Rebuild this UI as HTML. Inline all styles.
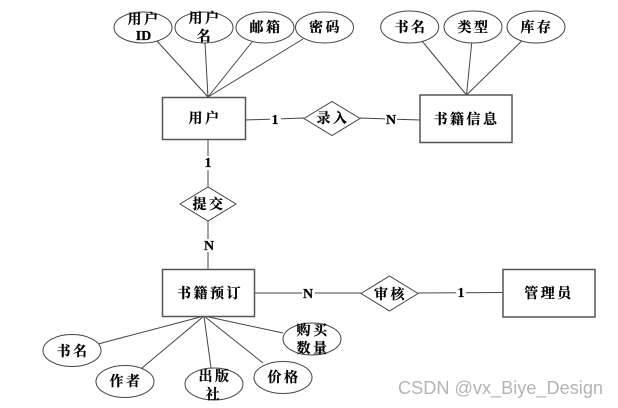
<!DOCTYPE html>
<html><head><meta charset="utf-8"><style>
html,body{margin:0;padding:0;background:#fff;width:618px;height:408px;overflow:hidden}
svg{display:block}
.c{font-family:"Noto Serif CJK SC","Liberation Serif",serif;font-size:14px;font-weight:700;fill:#000;text-anchor:middle;letter-spacing:2.5px;stroke:#000;stroke-width:.2}
.l{font-family:"Liberation Serif",serif;font-size:14px;font-weight:700;fill:#000;text-anchor:middle;stroke:#000;stroke-width:.2}
.w{font-family:"Liberation Sans",sans-serif;font-size:18px;fill:#b4b4b4}
line{stroke:#444;stroke-width:1}
.s{fill:#fff;stroke:#444;stroke-width:1}
.r{fill:#fff;stroke:#555;stroke-width:1.5}
.bg{fill:#fff;stroke:none}
</style></head><body>
<svg width="618" height="408" viewBox="0 0 618 408" xmlns="http://www.w3.org/2000/svg">
<line x1="157" y1="41" x2="208" y2="97"/>
<line x1="205" y1="43" x2="208" y2="97"/>
<line x1="252" y1="42" x2="208" y2="97"/>
<line x1="303" y1="39" x2="208" y2="97"/>
<line x1="422" y1="41" x2="466.5" y2="95"/>
<line x1="471.7" y1="43" x2="466.5" y2="95"/>
<line x1="521.7" y1="41" x2="466.5" y2="95"/>
<line x1="245" y1="120" x2="304" y2="118"/>
<line x1="360" y1="118" x2="420" y2="120"/>
<line x1="208" y1="139" x2="208" y2="187"/>
<line x1="208" y1="221" x2="208" y2="269"/>
<line x1="254" y1="293" x2="361" y2="293"/>
<line x1="418" y1="293" x2="503" y2="292.5"/>
<line x1="98" y1="344" x2="204" y2="316"/>
<line x1="142" y1="368" x2="204" y2="316"/>
<line x1="211" y1="368" x2="204" y2="316"/>
<line x1="263" y1="363" x2="204" y2="316"/>
<line x1="283" y1="333" x2="204" y2="316"/>

<rect class="r" x="162.5" y="97.5" width="83" height="42"/>
<rect class="r" x="420" y="95" width="92" height="47.5"/>
<rect class="r" x="162.5" y="269.5" width="92" height="47"/>
<rect class="r" x="503" y="269.5" width="92" height="47.5"/>

<ellipse class="s" cx="143" cy="27.5" rx="29" ry="15.5"/>
<ellipse class="s" cx="204" cy="27.5" rx="29" ry="15.5"/>
<ellipse class="s" cx="265" cy="27.5" rx="29" ry="15.5"/>
<ellipse class="s" cx="324.5" cy="27.5" rx="29" ry="15.5"/>
<ellipse class="s" cx="409.7" cy="27" rx="29" ry="16"/>
<ellipse class="s" cx="473" cy="27" rx="29" ry="16"/>
<ellipse class="s" cx="536" cy="27" rx="29" ry="16"/>
<ellipse class="s" cx="72" cy="350.5" rx="29" ry="16"/>
<ellipse class="s" cx="125" cy="381.5" rx="29" ry="16"/>
<ellipse class="s" cx="214" cy="384" rx="29" ry="16"/>
<ellipse class="s" cx="283" cy="377.5" rx="29" ry="16"/>
<ellipse class="s" cx="312" cy="339" rx="29" ry="16"/>

<polygon class="s" points="304,118.5 332,101.5 360,118.5 332,135.5"/>
<polygon class="s" points="180,204 208,187 236,204 208,221"/>
<polygon class="s" points="361,293.5 389.5,276 418,293.5 389.5,311"/>

<rect class="bg" x="270" y="112" width="11" height="14"/>
<rect class="bg" x="385" y="112" width="12" height="14"/>
<rect class="bg" x="202" y="156" width="12" height="14"/>
<rect class="bg" x="202" y="239" width="14" height="13"/>
<rect class="bg" x="302" y="286" width="13" height="14"/>
<rect class="bg" x="456" y="286" width="10" height="14"/>
<text class="l" x="275" y="124">1</text>
<text class="l" x="391" y="124">N</text>
<text class="l" x="208" y="167">1</text>
<text class="l" x="209" y="250">N</text>
<text class="l" x="308" y="298">N</text>
<text class="l" x="461" y="297">1</text>

<text class="c" x="144" y="24">用户</text>
<text class="l" x="143.5" y="40">ID</text>
<text class="c" x="205" y="23">用户</text>
<text class="c" x="205" y="41">名</text>
<text class="c" x="266" y="32">邮箱</text>
<text class="c" x="325.5" y="32">密码</text>
<text class="c" x="411" y="32">书名</text>
<text class="c" x="474" y="32">类型</text>
<text class="c" x="537" y="32">库存</text>
<text class="c" x="205" y="123">用户</text>
<text class="c" x="333" y="123">录入</text>
<text class="c" x="466.5" y="124">书籍信息</text>
<text class="c" x="209" y="209">提交</text>
<text class="c" x="210" y="298">书籍预订</text>
<text class="c" x="390.5" y="299">审核</text>
<text class="c" x="549" y="298">管理员</text>
<text class="c" x="73" y="356">书名</text>
<text class="c" x="126" y="386">作者</text>
<text class="c" x="215" y="381">出版</text>
<text class="c" x="214" y="399">社</text>
<text class="c" x="284" y="382">价格</text>
<text class="c" x="313" y="335">购买</text>
<text class="c" x="313" y="353">数量</text>
<text class="w" x="398" y="394" textLength="205" lengthAdjust="spacingAndGlyphs">CSDN @vx_Biye_Design</text>
</svg>
</body></html>
